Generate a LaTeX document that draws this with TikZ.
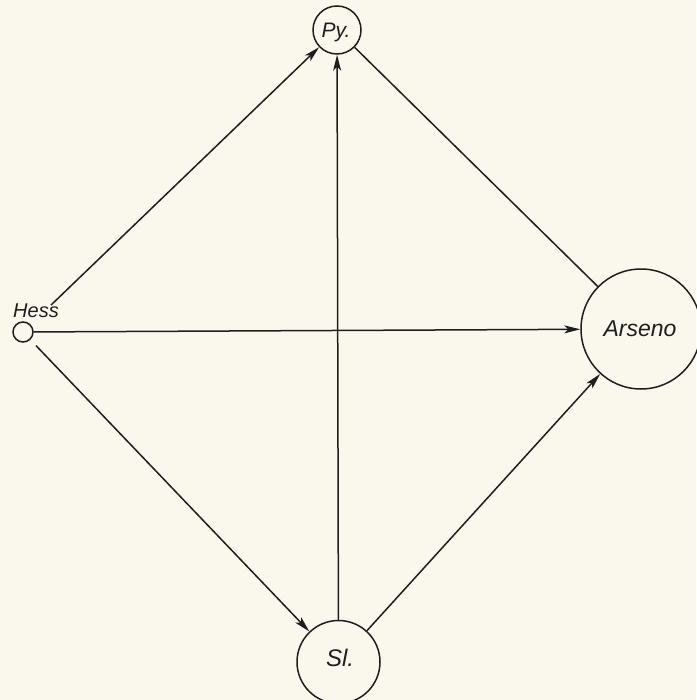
\documentclass[tikz,border=0pt]{standalone}
\usepackage{fontspec}
\setmainfont{Liberation Sans}
\usetikzlibrary{arrows.meta}
\definecolor{paper}{RGB}{250,247,236}
\definecolor{ink}{RGB}{30,30,30}
\begin{document}
\begin{tikzpicture}[x=1pt,y=-1pt,
  ring/.style={draw=ink,line width=1.5pt,circle,inner sep=0pt},
  lbl/.style={text=ink,font=\itshape},
  conn/.style={draw=ink,line width=1.5pt},
  arr/.style={conn,-{Stealth[length=16pt,width=8pt,inset=4pt]}}]
\fill[paper] (0,0) rectangle (696,700);
\useasboundingbox (0,0) rectangle (696,700);
% nodes
\node[ring,minimum size=20pt] (hess) at (23,332) {};
\node[ring,minimum size=48pt] (py) at (337,30) {};
\node[ring,minimum size=120pt] (ars) at (641,329) {};
\node[ring,minimum size=83pt] (sl) at (338.5,662) {};
% labels
\node[lbl,font=\fontsize{20}{20}\selectfont\itshape] (hesst) at (36,311) {Hess};
\node[lbl,font=\fontsize{21}{21}\selectfont\itshape] (pyt) at (336,32) {Py.};
\node[lbl,font=\fontsize{23}{23}\selectfont\itshape] (arst) at (640,329) {Arseno};
\node[lbl,font=\fontsize{24}{24}\selectfont\itshape] (slt) at (340,658) {Sl.};
% connectors
\draw[arr,shorten <=28pt] (hess) -- (py);
\draw[arr] (hess) -- (ars);
\draw[arr,shorten <=8pt] (hess) -- (sl);
\draw[arr] (sl) -- (py);
\draw[arr] (sl) -- (ars);
\draw[conn] (py) -- (ars);
\end{tikzpicture}
\end{document}
